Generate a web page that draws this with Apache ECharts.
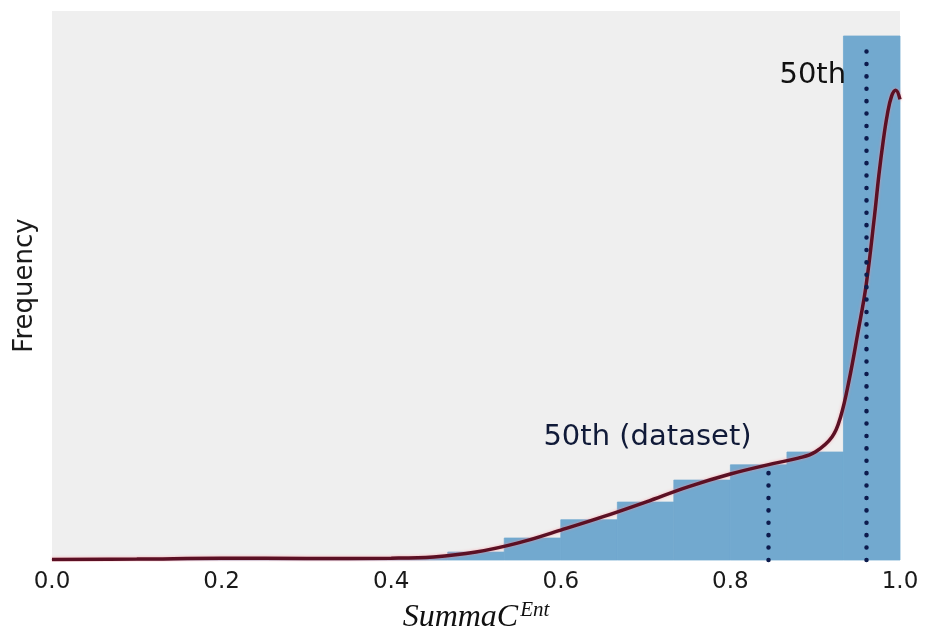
<!DOCTYPE html>
<html>
<head>
<meta charset="utf-8">
<script src="https://cdn.jsdelivr.net/npm/echarts@6/dist/echarts.min.js"></script>
<style>
  html, body { margin: 0; padding: 0; background: #fff; }
  #chart { width: 932px; height: 635px; }
</style>
</head>
<body>
<div id="chart"></div>
<script>
// histogram bins (left edge, right edge) and their heights (density)
const binLeft = [0, 0.0667, 0.1333, 0.2, 0.2667, 0.3333, 0.4, 0.4667, 0.5333, 0.6, 0.6667, 0.7333, 0.8, 0.8667, 0.9333];
const binRight = [0.0667, 0.1333, 0.2, 0.2667, 0.3333, 0.4, 0.4667, 0.5333, 0.6, 0.6667, 0.7333, 0.8, 0.8667, 0.9333, 1.0];
const binHeight = [0.01, 0.01, 0.02, 0.02, 0.02, 0.03, 0.04, 0.13, 0.36, 0.66, 0.95, 1.31, 1.56, 1.77, 8.59];

// kde curve
const kdeX = [0, 0.1, 0.2, 0.3, 0.4, 0.45, 0.5, 0.55, 0.6, 0.65, 0.7, 0.75, 0.8, 0.85, 0.88, 0.9, 0.92, 0.93, 0.94, 0.95, 0.96, 0.97, 0.975, 0.98, 0.985, 0.99, 0.995, 1.0];
const kdeY = [0.01, 0.015, 0.03, 0.025, 0.03, 0.05, 0.13, 0.28, 0.49, 0.71, 0.95, 1.2, 1.41, 1.58, 1.67, 1.77, 2.02, 2.35, 2.95, 3.7, 4.5, 5.65, 6.3, 6.85, 7.3, 7.6, 7.7, 7.55];

// percentile markers
const pctX = [0.845, 0.96];
const pctTop = [1.59, 8.42];
const pctText = ['50th (dataset)', '50th'];

const xTicks = [0, 0.2, 0.4, 0.6, 0.8, 1.0];

const chart = echarts.init(document.getElementById('chart'));

const bins = binLeft.map((l, i) => [l, binRight[i], binHeight[i]]);
const kde = kdeX.map((x, i) => [x, kdeY[i]]);

const dotStyle = {
    color: '#0d1b4d',
    width: 4.5,
    type: [0.1, 12.3],
    cap: 'round'
};

chart.setOption({
    animation: false,
    backgroundColor: '#fff',
    grid: {
        left: 52, right: 32, top: 11, bottom: 75,
        containLabel: false,
        outerBoundsMode: 'none',
        show: true,
        backgroundColor: '#efefef',
        borderWidth: 0
    },
    xAxis: {
        type: 'value',
        min: 0, max: 1, interval: 0.2,
        axisLine: { show: false },
        axisTick: { show: false },
        splitLine: { show: false },
        axisLabel: {
            margin: 11,
            fontSize: 23,
            fontFamily: 'DejaVu Sans',
            color: '#1a1a1a',
            formatter: v => v.toFixed(1),
            customValues: xTicks
        },
        name: '{a|SummaC}{b|Ent}',
        nameLocation: 'middle',
        nameGap: 40,
        nameTextStyle: {
            rich: {
                a: { fontSize: 32, fontStyle: 'italic', fontFamily: 'Liberation Serif', color: '#111' },
                b: { fontSize: 21, fontStyle: 'italic', fontFamily: 'Liberation Serif', color: '#111', verticalAlign: 'top', padding: [0, 0, 14, 2] }
            }
        }
    },
    yAxis: {
        type: 'value',
        min: 0, max: 9,
        axisLine: { show: false },
        axisTick: { show: false },
        axisLabel: { show: false },
        splitLine: { show: false },
        name: 'Frequency',
        nameLocation: 'middle',
        nameGap: 14,
        nameTextStyle: { fontSize: 26, fontFamily: 'DejaVu Sans', color: '#1a1a1a' }
    },
    series: [
        {
            type: 'custom',
            name: 'hist',
            data: bins,
            encode: { x: [0, 1], y: 2 },
            itemStyle: { color: '#72a9cf', borderColor: '#72a9cf', borderWidth: 0.8 },
            renderItem(params, api) {
                const p0 = api.coord([api.value(0), api.value(2)]);
                const p1 = api.coord([api.value(1), 0]);
                return {
                    type: 'rect',
                    shape: { x: p0[0], y: p0[1], width: p1[0] - p0[0], height: p1[1] - p0[1] },
                    style: api.style()
                };
            },
            z: 1
        },
        {
            type: 'line',
            name: 'kde',
            data: kde,
            smooth: 0.4,
            showSymbol: false,
            lineStyle: {
                color: '#5b1024',
                width: 3.5,
                shadowColor: 'rgba(255,140,150,0.7)',
                shadowBlur: 3
            },
            markLine: {
                silent: true,
                symbol: ['none', 'none'],
                label: { show: false },
                lineStyle: dotStyle,
                data: pctX.map((x, i) => [{ coord: [x, 0] }, { coord: [x, pctTop[i]] }])
            },
            markPoint: {
                silent: true,
                symbol: 'circle',
                symbolSize: 0,
                data: pctX.map((x, i) => ({
                    coord: [x, pctTop[i]],
                    label: {
                        show: true,
                        position: 'left',
                        formatter: pctText[i],
                        fontSize: 29,
                        fontFamily: 'DejaVu Sans',
                        color: i === 0 ? '#101a38' : '#111',
                        offset: i === 0 ? [-12, -26] : [-15, 29]
                    }
                }))
            },
            z: 3
        }
    ]
});
</script>
</body>
</html>
